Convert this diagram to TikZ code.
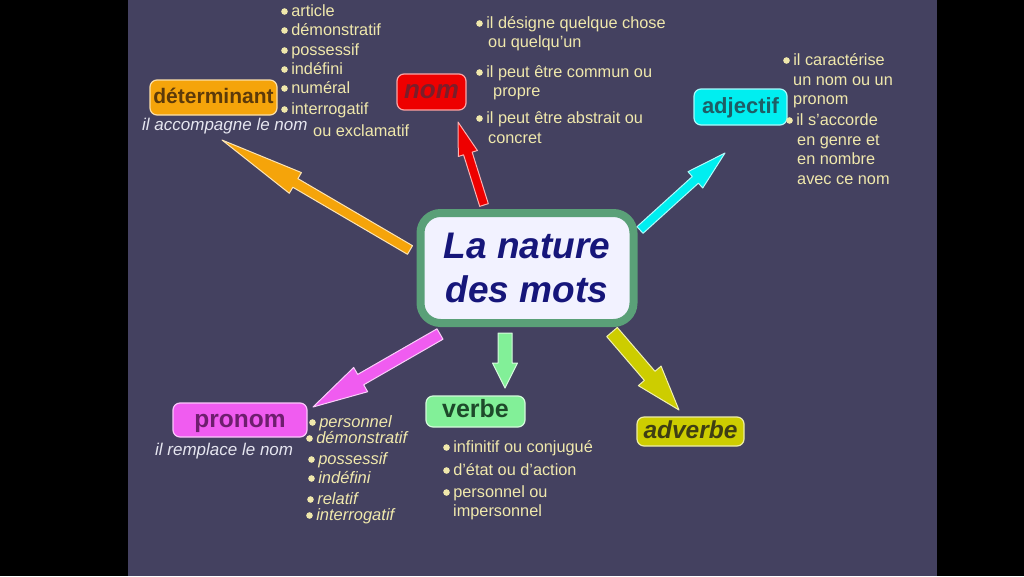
\documentclass[tikz,border=0pt]{standalone}
\usepackage{fontspec}
\setmainfont{Liberation Sans}
\usetikzlibrary{calc}

\definecolor{fond}{RGB}{68,65,96}
\definecolor{creme}{RGB}{240,232,172}
\definecolor{gris}{RGB}{230,230,240}
\definecolor{marine}{RGB}{22,22,122}
\definecolor{vertbord}{RGB}{90,160,120}
\definecolor{orange}{RGB}{245,164,10}
\definecolor{rouge}{RGB}{238,0,0}
\definecolor{cyan}{RGB}{0,238,240}
\definecolor{magenta}{RGB}{240,92,240}
\definecolor{vert}{RGB}{130,240,152}
\definecolor{olive}{RGB}{205,205,0}

\tikzset{
  motbox/.style={rounded corners=7pt, line width=1.2pt, fill=#1, draw=#1!35!white,
    inner sep=0pt, text depth=0pt},
  item/.style={anchor=base west, inner sep=0pt, text=creme, font=\fontsize{16.3}{20}\selectfont},
  legende/.style={anchor=base west, inner sep=0pt, text=gris, font=\itshape\fontsize{17}{20}\selectfont}
}

\newcommand{\puce}{\tikz[baseline=-4.5pt]\fill[creme] (0,0) circle (3.3pt);\hspace{3.5pt}}

% grosse fleche : couleur, depart, pointe, demi-largeur, demi-tete, longueur tete
\newcommand{\fleche}[6]{%
  \coordinate (cou) at ($(#3)!#6!(#2)$);
  \filldraw[line width=1pt, line join=round, fill=#1, draw=#1!30!white]
    ($(#2)!#4!90:(#3)$) -- ($(cou)!#4!90:(#3)$) -- ($(cou)!#5!90:(#3)$) -- (#3)
    -- ($(cou)!#5!-90:(#3)$) -- ($(cou)!#4!-90:(#3)$) -- ($(#2)!#4!-90:(#3)$) -- cycle;}

\begin{document}
\begin{tikzpicture}[x=1pt, y=-1pt]
  \useasboundingbox (0,0) rectangle (1024,576);
  \fill[black] (0,0) rectangle (1024,576);
  \fill[fond] (128,0) rectangle (937,576);

  \node (centre) [rounded corners=20pt, line width=8pt, draw=vertbord, fill=white!95!blue,
    minimum width=213pt, minimum height=110pt, align=center, text=marine,
    font=\bfseries\itshape\fontsize{37}{44}\selectfont] at (527,268) {La nature\\des mots};

  \node (det) [motbox=orange, minimum width=127pt, minimum height=35pt, text height=11pt,
    text={rgb,255:red,92;green,58;blue,10},
    font=\bfseries\fontsize{21}{24}\selectfont] at (213.5,97.5) {déterminant};
  \node (nom) [motbox=rouge, minimum width=69pt, minimum height=36pt, text height=12pt,
    text={rgb,255:red,122;green,30;blue,42},
    font=\bfseries\itshape\fontsize{26}{28}\selectfont] at (431.5,92) {nom};
  \node (adj) [motbox=cyan, minimum width=93pt, minimum height=36pt, text height=12pt,
    text={rgb,255:red,30;green,94;blue,102},
    font=\bfseries\fontsize{22}{24}\selectfont] at (740.5,107) {adjectif};
  \node (pron) [motbox=magenta, minimum width=134pt, minimum height=34pt, text height=14pt,
    text={rgb,255:red,110;green,30;blue,110},
    font=\bfseries\fontsize{24.5}{26}\selectfont] at (240,420) {pronom};
  \node (verbe) [motbox=vert, minimum width=99pt, minimum height=31pt, text height=12pt,
    text={rgb,255:red,30;green,74;blue,42},
    font=\bfseries\fontsize{25}{26}\selectfont] at (475.5,411.5) {verbe};
  \node (adv) [motbox=olive, minimum width=107pt, minimum height=29pt, text height=13pt,
    text={rgb,255:red,62;green,62;blue,20},
    font=\bfseries\itshape\fontsize{24.5}{26}\selectfont] at (690.5,431.5) {adverbe};

  % fleches
  \coordinate (detA) at (410,250);   \coordinate (detB) at (222,140);
  \coordinate (nomA) at (484,205);   \coordinate (nomB) at (458,122);
  \coordinate (adjA) at (640,230);   \coordinate (adjB) at (725,153);
  \coordinate (pronA) at (440,334);  \coordinate (pronB) at (313,407);
  \coordinate (verbeA) at (505,333); \coordinate (verbeB) at (505,388);
  \coordinate (advA) at (612,332);   \coordinate (advB) at (679,410);
  \fleche{orange}{detA}{detB}{5pt}{12pt}{85pt}
  \fleche{rouge}{nomA}{nomB}{4.5pt}{10pt}{33pt}
  \fleche{cyan}{adjA}{adjB}{4.5pt}{11pt}{40pt}
  \fleche{magenta}{pronA}{pronB}{6pt}{14pt}{55pt}
  \fleche{vert}{verbeA}{verbeB}{7pt}{12.5pt}{25pt}
  \fleche{olive}{advA}{advB}{7pt}{15pt}{45pt}

  % listes
  \foreach \x/\y/\t [count=\i] in {281/16/\puce article, 281/35/\puce démonstratif,
      281/55/\puce possessif, 281/74/\puce indéfini, 281/93/\puce numéral,
      281/114/\puce interrogatif, 313/136/ou exclamatif}
    \node (detl\i) [item] at (\x,\y) {\t};
  \foreach \x/\y/\t [count=\i] in {476/28/\puce il désigne quelque chose, 488/47/ou quelqu'un,
      476/77/\puce il peut être commun ou, 493/96/propre,
      476/123/\puce il peut être abstrait ou, 488/143/concret}
    \node (noml\i) [item] at (\x,\y) {\t};
  \foreach \x/\y/\t [count=\i] in {783/65/\puce il caractérise, 793/85/un nom ou un,
      793/104/pronom, 786/125/\puce il s'accorde, 797/145/en genre et,
      797/164/en nombre, 797/184/avec ce nom}
    \node (adjl\i) [item] at (\x,\y) {\t};
  \foreach \x/\y/\t [count=\i] in {309/427/\puce personnel, 306/443/\puce démonstratif,
      308/464/\puce possessif, 308/483/\puce indéfini, 307/504/\puce relatif,
      306/520/\puce interrogatif}
    \node (pronl\i) [item, font=\itshape\fontsize{16.5}{20}\selectfont] at (\x,\y) {\t};
  \foreach \x/\y/\t [count=\i] in {443/452/\puce infinitif ou conjugué,
      443/475/\puce d'état ou d'action, 443/497/\puce personnel ou, 453/516/impersonnel}
    \node (verbel\i) [item] at (\x,\y) {\t};

  \node (detc) [legende] at (142,130) {il accompagne le nom};
  \node (pronc) [legende] at (155,455) {il remplace le nom};
\end{tikzpicture}
\end{document}
